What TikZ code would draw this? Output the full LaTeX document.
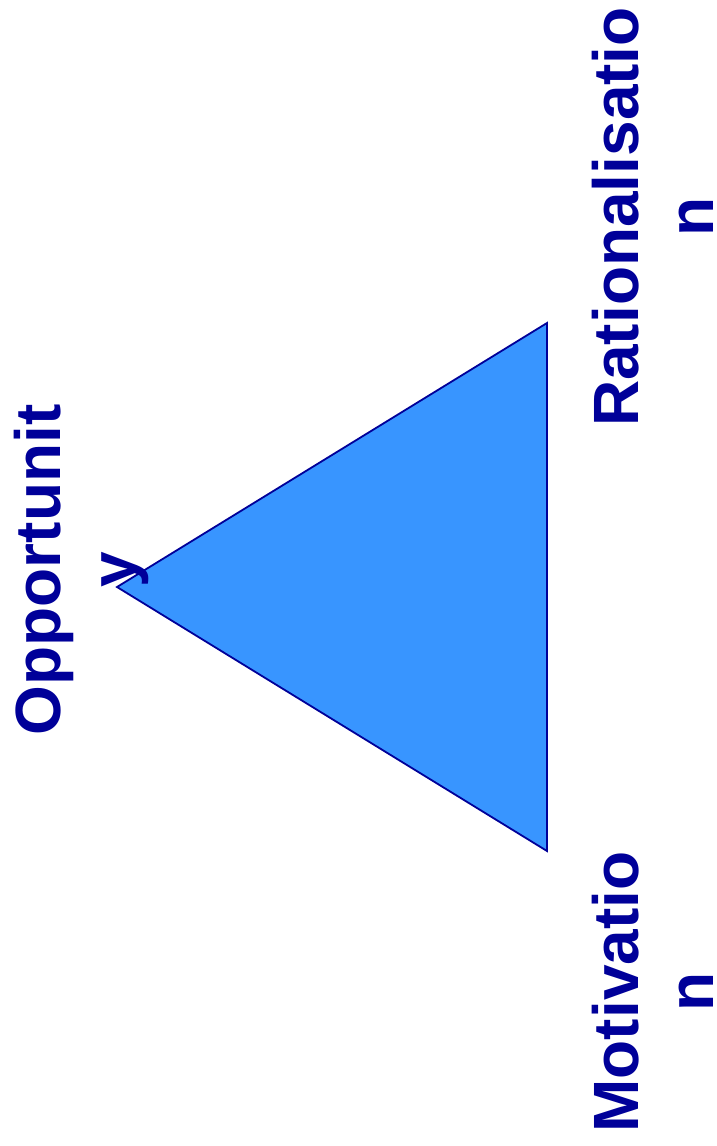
\documentclass[tikz,border=0pt]{standalone}
\usepackage{fontspec}
\setmainfont{Liberation Sans}
\definecolor{navytext}{HTML}{000099}
\definecolor{trifill}{HTML}{3895FF}
\begin{document}
\begin{tikzpicture}[x=1pt,y=-1pt,
  lbl/.style={rotate=90,anchor=base,inner sep=0pt,align=center,text=navytext,
    font=\fontsize{64}{75}\selectfont\bfseries}]
\useasboundingbox (0,0) rectangle (716,1146);
\coordinate (A) at (117,587);
\coordinate (B) at (547,323);
\coordinate (C) at (547,851);
\filldraw[fill=trifill,draw=navytext,line width=1.8pt,line join=miter] (A) -- (B) -- (C) -- cycle;
\node[lbl] (opp) at (135,570) {Opportunit\\y};
\node[lbl] (rat) at (713,217) {Rationalisatio\\n};
\node[lbl] (mot) at (713,992) {Motivatio\\n};
\end{tikzpicture}
\end{document}
